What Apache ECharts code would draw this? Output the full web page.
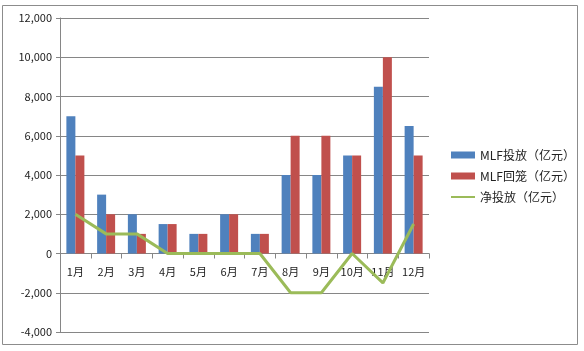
<!DOCTYPE html>
<html>
<head>
<meta charset="utf-8">
<script src="https://cdn.jsdelivr.net/npm/echarts@6/dist/echarts.min.js"></script>
<style>
  html, body { margin: 0; padding: 0; background: #fff; }
  #chart { width: 584px; height: 351px; }
</style>
</head>
<body>
<div id="chart"></div>
<script>
const months = ['1月', '2月', '3月', '4月', '5月', '6月', '7月', '8月', '9月', '10月', '11月', '12月'];
const mlfIn = [7000, 3000, 2000, 1500, 1000, 2000, 1000, 4000, 4000, 5000, 8500, 6500];
const mlfOut = [5000, 2000, 1000, 1500, 1000, 2000, 1000, 6000, 6000, 5000, 10000, 5000];
const netIn = [2000, 1000, 1000, 0, 0, 0, 0, -2000, -2000, 0, -1500, 1500];
const seriesNames = ['MLF投放（亿元）', 'MLF回笼（亿元）', '净投放（亿元）'];

const yMin = -4000;
const yMax = 12000;
const gridTop = 18;
const gridBottom = 19;
const chartHeight = 351;

// 让类目轴（含标签）落在 0 刻度处
const plotH = chartHeight - gridTop - gridBottom;
const zeroOffset = -plotH * (0 - yMin) / (yMax - yMin);

const font = '"Noto Sans CJK SC", "Noto Sans", sans-serif';
const chart = echarts.init(document.getElementById('chart'));

chart.setOption({
  animation: false,
  textStyle: { fontFamily: font },
  graphic: [{
    type: 'rect',
    shape: { x: 2.5, y: 5.5, width: 575, height: 339 },
    style: { fill: 'none', stroke: '#8c8c8c', lineWidth: 1 },
    silent: true
  }],
  grid: { left: 60, right: 155, top: gridTop, bottom: gridBottom },
  legend: {
    orient: 'vertical',
    left: 445,
    top: 144,
    itemWidth: 24,
    itemHeight: 7,
    itemGap: 9,
    textStyle: { fontSize: 12, color: '#222', fontFamily: font },
    data: [
      { name: seriesNames[0], icon: 'rect' },
      { name: seriesNames[1], icon: 'rect' },
      { name: seriesNames[2], itemStyle: { opacity: 0 } }
    ]
  },
  xAxis: {
    type: 'category',
    data: months,
    offset: zeroOffset,
    axisLine: { onZero: false, lineStyle: { color: '#868686' } },
    axisTick: { show: true, length: 5, lineStyle: { color: '#868686' } },
    axisLabel: { color: '#222', fontSize: 11, margin: 13 },
    splitLine: { show: false }
  },
  yAxis: {
    type: 'value',
    min: yMin,
    max: yMax,
    interval: 2000,
    axisLine: { show: true, lineStyle: { color: '#868686' } },
    axisTick: { show: true, length: 4, lineStyle: { color: '#868686' } },
    axisLabel: {
      color: '#222',
      fontSize: 11,
      margin: 8,
      formatter: v => v.toLocaleString('en-US')
    },
    splitLine: { lineStyle: { color: '#868686' } }
  },
  series: [
    {
      name: seriesNames[0],
      type: 'bar',
      data: mlfIn,
      barWidth: 9,
      barGap: '0%',
      itemStyle: { color: '#4f81bd' }
    },
    {
      name: seriesNames[1],
      type: 'bar',
      data: mlfOut,
      barWidth: 9,
      barGap: '0%',
      itemStyle: { color: '#c0504d' }
    },
    {
      name: seriesNames[2],
      type: 'line',
      data: netIn,
      symbol: 'none',
      lineStyle: { color: '#9bbb59', width: 3 },
      itemStyle: { color: '#9bbb59' },
      z: 5
    }
  ]
});
</script>
</body>
</html>
